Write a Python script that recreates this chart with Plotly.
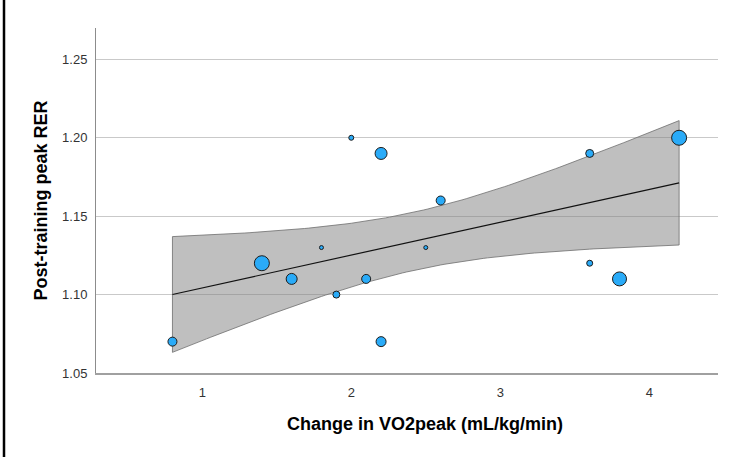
import numpy as np
import plotly.graph_objects as go

# Data
vo2_change = [0.8, 1.4, 1.6, 1.8, 1.9, 2.0, 2.1, 2.2, 2.2, 2.5, 2.6, 3.6, 3.6, 3.8, 4.2]
post_rer = [1.07, 1.12, 1.11, 1.13, 1.10, 1.20, 1.11, 1.19, 1.07, 1.13, 1.16, 1.19, 1.12, 1.11, 1.20]
bubble_var = [10, 16, 12, 5, 8, 6, 10, 13, 11, 5, 10, 9, 7, 15, 16]

x_ticks = [1, 2, 3, 4]
y_ticks = [1.05, 1.10, 1.15, 1.20, 1.25]
y_tick_text = ["1.05", "1.10", "1.15", "1.20", "1.25"]

x_title = "Change in VO2peak (mL/kg/min)"
y_title = "Post-training peak RER"

# Linear fit with 90% confidence band of the mean
x = np.array(vo2_change)
y = np.array(post_rer)
n = len(x)
slope, intercept = np.polyfit(x, y, 1)
resid = y - (slope * x + intercept)
s = np.sqrt(np.sum(resid ** 2) / (n - 2))
sxx = np.sum((x - x.mean()) ** 2)
t_val = 1.771  # t(0.95, df=13)
xs = np.linspace(x.min(), x.max(), 120)
ys = slope * xs + intercept
se = s * np.sqrt(1.0 / n + (xs - x.mean()) ** 2 / sxx)
upper = ys + t_val * se
lower = ys - t_val * se

fig = go.Figure()

fig.add_trace(go.Scatter(
    x=list(xs) + list(xs[::-1]) + [xs[0]],
    y=list(upper) + list(lower[::-1]) + [upper[0]],
    mode="lines", fill="toself",
    fillcolor="rgba(128,128,128,0.5)",
    line=dict(color="#6e6e6e", width=0.8),
    hoverinfo="skip", showlegend=False,
))
fig.add_trace(go.Scatter(
    x=xs, y=ys, mode="lines",
    line=dict(color="#111111", width=1.2),
    hoverinfo="skip", showlegend=False,
))
fig.add_trace(go.Scatter(
    x=vo2_change, y=post_rer, mode="markers",
    marker=dict(size=[b - 1 for b in bubble_var], color="#2aabf8",
                line=dict(color="#1c1c1c", width=1), opacity=1),
    showlegend=False,
))

fig.update_layout(
    width=736, height=457,
    margin=dict(l=96, r=18, t=28, b=84),
    paper_bgcolor="white", plot_bgcolor="white",
    font=dict(family="Liberation Sans, Arial, sans-serif", color="#333333"),
    xaxis=dict(
        range=[0.287, 4.461], tickvals=x_ticks, ticks="",
        showgrid=False, zeroline=False,
        showline=True, linecolor="#a0a0a0", linewidth=2,
        tickfont=dict(size=13, color="#333333"),
        ticklabelstandoff=6,
    ),
    yaxis=dict(
        range=[1.05, 1.27], tickvals=y_ticks, ticktext=y_tick_text, ticks="",
        showgrid=True, gridcolor="#c9c9c9", gridwidth=1, zeroline=False,
        showline=True, linecolor="#8c8c8c", linewidth=1,
        tickfont=dict(size=13, color="#333333"),
        ticklabelstandoff=5,
    ),
    annotations=[
        dict(text=x_title, xref="paper", yref="paper",
             x=(425 - 96) / 622, y=-(424 - 373) / 345,
             xanchor="center", yanchor="middle", showarrow=False,
             font=dict(size=18, color="#000000",
                       family="Liberation Sans, Arial, sans-serif",
                       weight="bold")),
        dict(text=y_title, xref="paper", yref="paper",
             x=(40 - 96) / 622, y=0.5, textangle=-90,
             xanchor="center", yanchor="middle", showarrow=False,
             font=dict(size=18, color="#000000",
                       family="Liberation Sans, Arial, sans-serif",
                       weight="bold")),
    ],
    shapes=[
        dict(type="line", xref="paper", yref="paper",
             x0=(0 - 96) / 622, x1=(736 - 96) / 622,
             y0=(429 - 1) / 345, y1=(429 - 1) / 345,
             line=dict(color="#d6e6f5", width=2)),
        dict(type="line", xref="paper", yref="paper",
             x0=(4 - 96) / 622, x1=(4 - 96) / 622,
             y0=(429 - 3) / 345, y1=-(457 - 373) / 345,
             line=dict(color="#000000", width=2.5)),
    ],
)

fig.write_html("out.html")
